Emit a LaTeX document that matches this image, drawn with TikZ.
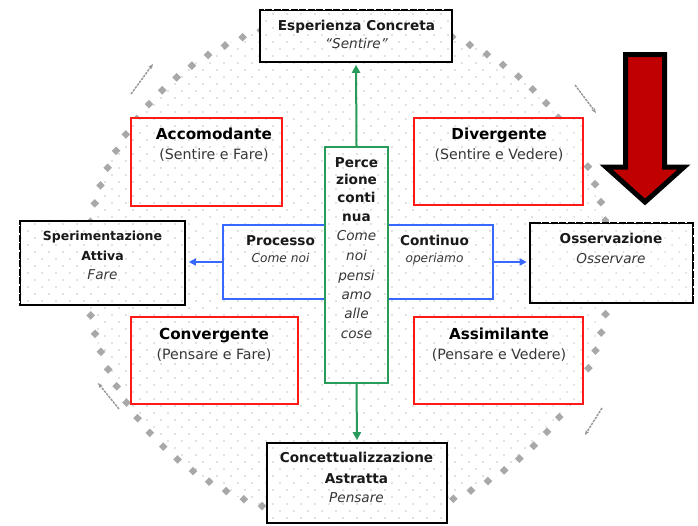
\documentclass[tikz,border=0pt]{standalone}
\usepackage{fontspec}
\setmainfont{DejaVu Sans}
\usetikzlibrary{arrows.meta,patterns.meta}
\definecolor{boxred}{RGB}{255,25,25}
\definecolor{boxgreen}{RGB}{40,155,90}
\definecolor{boxblue}{RGB}{55,105,255}
\definecolor{arrred}{RGB}{192,0,0}
\definecolor{ringgray}{RGB}{168,168,168}
\definecolor{arrgray}{RGB}{150,150,150}
\definecolor{dotgray}{RGB}{185,185,185}
\definecolor{subgray}{RGB}{55,55,55}
\tikzset{
  dotpat/.style={pattern={Dots[distance=9.9pt,angle=45,radius=0.75pt]}, pattern color=dotgray},
  dotbg/.style={preaction={fill=white}, dotpat},
  kbox/.style={draw=black, line width=2.6pt, dotbg, inner sep=0pt},
  rbox/.style={draw=boxred, line width=2pt, dotbg, inner sep=0pt},
  gbox/.style={draw=boxgreen, line width=2pt, dotbg, inner sep=0pt},
  bbox/.style={draw=boxblue, line width=1.6pt, dotbg, inner sep=0pt},
  dashgap/.style={draw=white, line width=3pt, dash pattern=on 1.5pt off 7pt},
  txt/.style={inner sep=0pt, anchor=base},
  ttlR/.style={txt, text=black, font=\bfseries\fontsize{15.2}{18}\selectfont},
  subR/.style={txt, text=subgray, font=\fontsize{14.2}{17}\selectfont},
  ttlK/.style={txt, text=black!90, font=\bfseries\fontsize{13.6}{16}\selectfont},
  ttlS/.style={txt, text=black!90, font=\bfseries\fontsize{12.5}{15}\selectfont},
  itK/.style={txt, text=subgray, font=\itshape\fontsize{13.6}{16}\selectfont},
  itS/.style={txt, text=subgray, font=\itshape\fontsize{12.2}{15}\selectfont},
  garrow/.style={draw=boxgreen, line width=2pt, -{Triangle[length=8pt,width=8pt]}},
  barrow/.style={draw=boxblue, line width=1.6pt, -{Triangle[length=7pt,width=7pt]}},
  grayarrow/.style={draw=arrgray, line width=1.4pt, dash pattern=on 2.5pt off 1pt, -{Stealth[length=5pt,width=4pt]}}
}
\begin{document}
\begin{tikzpicture}[x=1pt,y=-1pt]
\useasboundingbox (0,0) rectangle (698,525);
\fill[white] (0,0) rectangle (698,525);
% dotted disc
\fill[dotpat] (348,268) ellipse [x radius=262pt, y radius=252pt];
% ring marks
\foreach \i in {0,...,83} {
  \fill[ringgray] ({348+262*cos(\i*4.285714+2)}, {268+252*sin(\i*4.285714+2)}) +(0,-4.3) -- +(4.3,0) -- +(0,4.3) -- +(-4.3,0) -- cycle;
}
% small gray arrows on the ring
\coordinate (ga1s) at (131,94);  \coordinate (ga1e) at (153,64);
\coordinate (ga2s) at (575,85);  \coordinate (ga2e) at (596,113);
\coordinate (ga3s) at (602,408); \coordinate (ga3e) at (585,435);
\coordinate (ga4s) at (119,409); \coordinate (ga4e) at (98,383);
\draw[grayarrow] (ga1s) -- (ga1e);
\draw[grayarrow] (ga2s) -- (ga2e);
\draw[grayarrow] (ga3s) -- (ga3e);
\draw[grayarrow] (ga4s) -- (ga4e);

% boxes
\node[kbox, minimum width=192pt, minimum height=52pt] (esp) at (356,36) {};
\node[rbox, minimum width=151pt, minimum height=88pt] (acc) at (206.5,162) {};
\node[rbox, minimum width=169pt, minimum height=87pt] (div) at (498.5,161.5) {};
\node[rbox, minimum width=167pt, minimum height=87pt] (con) at (214.5,360.5) {};
\node[rbox, minimum width=169pt, minimum height=87pt] (ass) at (498.5,360.5) {};
\node[kbox, minimum width=165pt, minimum height=84pt] (sper) at (102.5,263) {};
\node[kbox, minimum width=163pt, minimum height=80pt] (oss) at (611.5,263) {};
\node[kbox, minimum width=180pt, minimum height=80pt] (conc) at (357,483) {};
\node[bbox, minimum width=270pt, minimum height=74pt] (blue) at (358,262) {};
\node[gbox, minimum width=63pt, minimum height=236pt] (green) at (356.5,265) {};

% dashed looking edges of the black boxes
\draw[dashgap] ([xshift=5pt]esp.north west) -- ([xshift=-3pt]esp.north east);
\draw[dashgap] ([yshift=-5pt]sper.north west) -- ([yshift=3pt]sper.south west);
\draw[dashgap] ([xshift=12pt]oss.north west) -- ([xshift=-3pt]oss.north east);
\draw[dashgap] ([yshift=-5pt]oss.north east) -- ([yshift=3pt]oss.south east);

% connectors
\draw[garrow, shorten >=1.5pt] (green.north) -- (esp.south);
\draw[garrow, shorten >=1.5pt] (green.south) -- (conc.north);
\draw[barrow, shorten >=2.5pt] (blue.west) -- (blue.west -| sper.east);
\draw[barrow, shorten >=2pt] (blue.east) -- (blue.east -| oss.west);

% big red arrow
\draw[line width=5pt, fill=arrred, draw=black, line join=miter]
  (625.5,54.5) -- (664.5,54.5) -- (664.5,167) -- (684,167) -- (645,202) -- (606,167) -- (625.5,167) -- cycle;

% texts
\node[ttlK] (tesp1) at (356.5,30) {Esperienza Concreta};
\node[itK]  (tesp2) at (356.5,48) {“Sentire”};
\node[ttlR] (tacc1) at (214,139) {Accomodante};
\node[subR] (tacc2) at (214,159.5) {(Sentire e Fare)};
\node[ttlR] (tdiv1) at (499,139) {Divergente};
\node[subR] (tdiv2) at (499,159.5) {(Sentire e Vedere)};
\node[ttlR] (tcon1) at (214,339) {Convergente};
\node[subR] (tcon2) at (214,359.5) {(Pensare e Fare)};
\node[ttlR] (tass1) at (499,339) {Assimilante};
\node[subR] (tass2) at (499,359.5) {(Pensare e Vedere)};
\node[ttlS] (tsp1) at (102.5,240) {Sperimentazione};
\node[ttlS] (tsp2) at (102.5,260) {Attiva};
\node[itK]  (tsp3) at (102.5,279) {Fare};
\node[ttlK] (tos1) at (611,243) {Osservazione};
\node[itK]  (tos2) at (611,263) {Osservare};
\node[ttlK] (tco1) at (356.5,462) {Concettualizzazione};
\node[ttlK] (tco2) at (356.5,483) {Astratta};
\node[itK]  (tco3) at (356.5,502) {Pensare};
\node[ttlK] (tg1) at (356.5,167) {Perce};
\node[ttlK] (tg2) at (356.5,184) {zione};
\node[ttlK] (tg3) at (356.5,202) {conti};
\node[ttlK] (tg4) at (356.5,221) {nua};
\node[itK]  (tg5) at (356.5,240) {Come};
\node[itK]  (tg6) at (356.5,260) {noi};
\node[itK]  (tg7) at (356.5,280) {pensi};
\node[itK]  (tg8) at (356.5,299) {amo};
\node[itK]  (tg9) at (356.5,318) {alle};
\node[itK]  (tg10) at (356.5,338) {cose};
\node[ttlK] (tb1) at (280.5,245) {Processo};
\node[itS]  (tb2) at (280.5,262) {Come noi};
\node[ttlK] (tb3) at (434.5,245) {Continuo};
\node[itS]  (tb4) at (434.5,262) {operiamo};
\end{tikzpicture}
\end{document}
